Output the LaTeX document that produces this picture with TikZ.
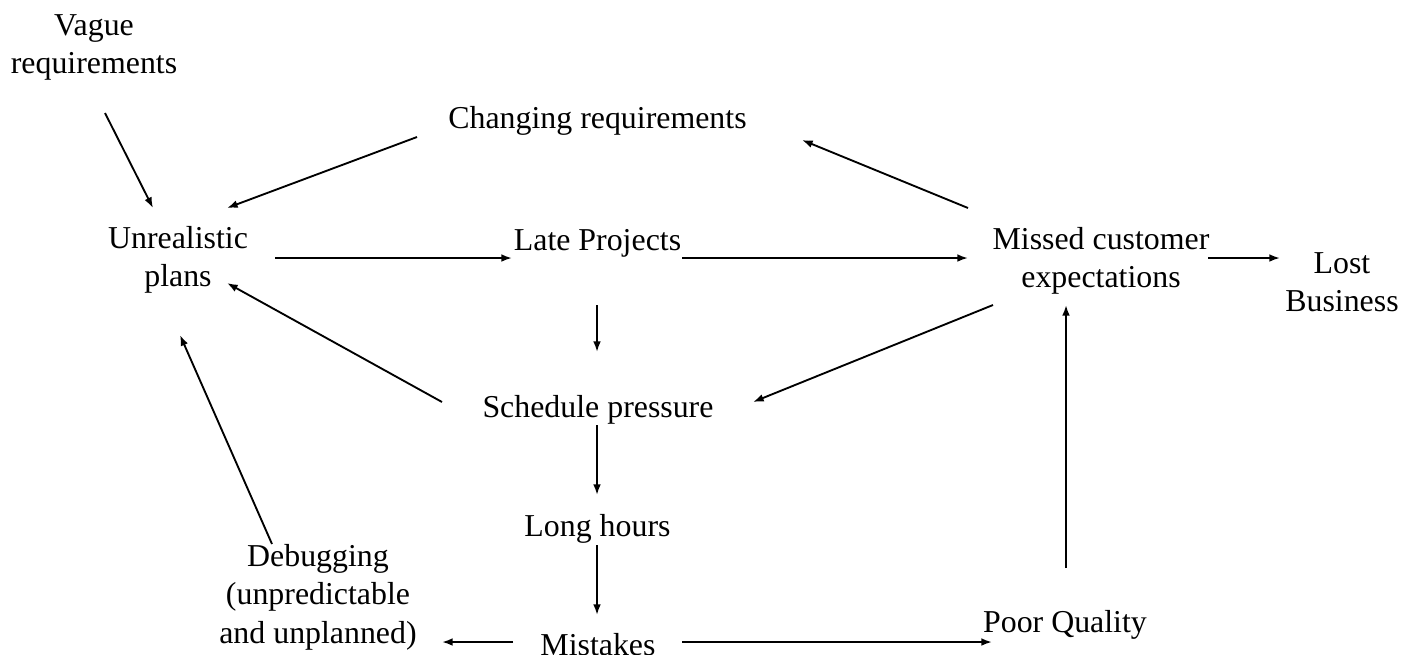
\documentclass[tikz,border=0pt]{standalone}
\usepackage{fontspec}
\setmainfont{Liberation Serif}
\usetikzlibrary{arrows.meta,calc}
\newcommand\mlines[1]{\begin{tabular}[t]{@{}c@{}}#1\end{tabular}}
\begin{document}
\begin{tikzpicture}[x=0.75pt,y=-0.75pt,
  lbl/.style={anchor=base,inner sep=0pt,outer sep=0pt,
    font=\fontsize{23.9pt}{28.9pt}\selectfont},
  arr/.style={-{Latex[length=8pt,width=5.8pt]},line width=1.4pt}]
\useasboundingbox (0,0) rectangle (1417,654);
\clip (0,0) rectangle (1417,654);
% nodes (base = baseline of first line)
\node[lbl] (vague) at (94,35) {\mlines{Vague\\requirements}};
\node[lbl] (unreal) at (178,248) {\mlines{Unrealistic\\plans}};
\node[lbl] (changing) at (597.5,128) {Changing requirements};
\node[lbl] (late) at (597.5,250) {Late Projects};
\node[lbl] (missed) at (1101,249) {\mlines{Missed customer\\expectations}};
\node[lbl] (lost) at (1342,273) {\mlines{Lost\\Business}};
\node[lbl] (schedule) at (598,417) {Schedule pressure};
\node[lbl] (long) at (597.5,536) {Long hours};
\node[lbl] (mistakes) at (598,655) {Mistakes};
\node[lbl] (poor) at (1065,632) {Poor Quality};
\node[lbl] (debug) at (318,566) {\mlines{Debugging\\(unpredictable\\and unplanned)}};
% connectors
\draw[arr] ($(vague.base)+(11,78)$) -- ($(unreal.base)+(-25,-40)$);
\draw[arr] ($(changing.base)+(-180.5,9)$) -- ($(unreal.base)+(49,-40)$);
\draw[arr] ($(unreal.base)+(97,10)$) -- ($(late.base)+(-85.5,8)$);
\draw[arr] ($(late.base)+(84.5,8)$) -- ($(missed.base)+(-133,9)$);
\draw[arr] ($(missed.base)+(-133,-41)$) -- ($(changing.base)+(204.5,12)$);
\draw[arr] ($(missed.base)+(107,9)$) -- ($(lost.base)+(-62,-15)$);
\draw[arr] ($(late.base)+(-0.5,55)$) -- ($(schedule.base)+(-1,-65)$);
\draw[arr] ($(missed.base)+(-108,56)$) -- ($(schedule.base)+(155,-15)$);
\draw[arr] ($(schedule.base)+(-156,-15)$) -- ($(unreal.base)+(49,35)$);
\draw[arr] ($(schedule.base)+(-1,8)$) -- ($(long.base)+(-0.5,-41)$);
\draw[arr] ($(long.base)+(-0.5,9)$) -- ($(mistakes.base)+(-1,-40)$);
\draw[arr] ($(mistakes.base)+(-85,-13)$) -- ($(debug.base)+(124,76)$);
\draw[arr] ($(mistakes.base)+(84,-13)$) -- ($(poor.base)+(-73,10)$);
\draw[arr] ($(poor.base)+(1,-64)$) -- ($(missed.base)+(-35,56)$);
\draw[arr] ($(debug.base)+(-46,-22)$) -- ($(unreal.base)+(2,87)$);
\end{tikzpicture}
\end{document}
